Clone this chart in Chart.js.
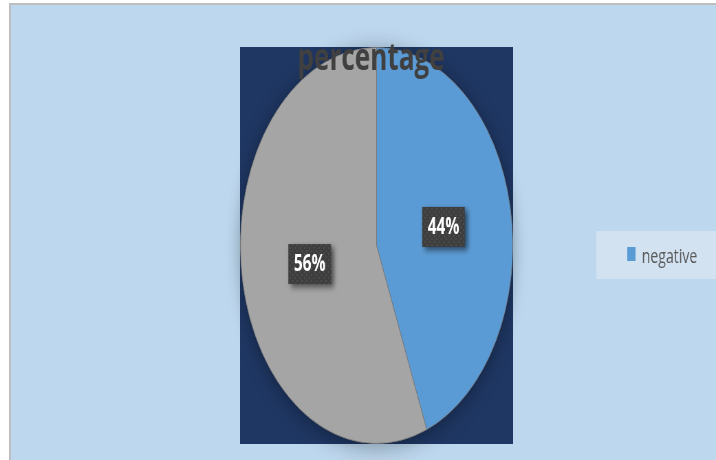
<!DOCTYPE html>
<html>
<head>
<meta charset="utf-8">
<script src="https://cdn.jsdelivr.net/npm/chart.js@4.4.1/dist/chart.umd.min.js"></script>
<style>
  html, body { margin: 0; padding: 0; background: #ffffff; width: 716px; height: 460px; overflow: hidden; }
  #frame {
    position: absolute; left: 9px; top: 3px; width: 720px; height: 470px;
    background: #BDD7EE; border-left: 2px solid #BEBEBE; border-top: 2px solid #BEBEBE;
  }
  /* the chart is laid out wide and squeezed horizontally, giving the tall oval pie */
  #stage { position: absolute; left: 0; top: 0; width: 1041px; height: 460px; transform: scaleX(0.6878); transform-origin: 0 0; }
</style>
</head>
<body>
<div id="frame"></div>
<div id="stage"><canvas id="c" width="1041" height="460"></canvas></div>
<script>
const chartTitle = 'percentage';
const categories = ['negative', 'positive'];
const percentages = [44, 56];
const sliceColors = ['#5B9BD5', '#A5A5A5'];
const legendEntries = categories.slice(0, 1);

const FONT = '"Open Sans", "Liberation Sans", sans-serif';

// small dotted texture used behind the value labels
function makeDotPattern(ctx) {
  const p = document.createElement('canvas');
  p.width = 7; p.height = 6;
  const g = p.getContext('2d');
  g.fillStyle = '#3E3E3E';
  g.fillRect(0, 0, 7, 6);
  g.fillStyle = '#4C4C4C';
  g.fillRect(1, 1, 2, 2);
  g.fillRect(4, 4, 2, 2);
  return ctx.createPattern(p, 'repeat');
}

const plotBackdrop = {
  id: 'plotBackdrop',
  beforeDatasetsDraw(chart) {
    const { ctx, chartArea: a } = chart;
    ctx.save();
    ctx.fillStyle = '#1F3763';
    ctx.fillRect(a.left, a.top, a.right - a.left, a.bottom - a.top);
    // soft shadow around the pie
    const arc = chart.getDatasetMeta(0).data[0];
    ctx.shadowColor = 'rgba(0,0,0,0.34)';
    ctx.shadowBlur = 22;
    ctx.shadowOffsetY = 3;
    ctx.beginPath();
    ctx.arc(arc.x, arc.y, arc.outerRadius, 0, Math.PI * 2);
    ctx.fillStyle = sliceColors[1];
    ctx.fill();
    ctx.restore();
  }
};

const valueLabels = {
  id: 'valueLabels',
  afterDatasetsDraw(chart) {
    const { ctx } = chart;
    const pattern = makeDotPattern(ctx);
    const meta = chart.getDatasetMeta(0);
    meta.data.forEach((arc, i) => {
      const pos = arc.tooltipPosition();
      const w = 62, h = 40;
      ctx.save();
      ctx.shadowColor = 'rgba(0,0,0,0.55)';
      ctx.shadowBlur = 6;
      ctx.shadowOffsetX = 4;
      ctx.shadowOffsetY = 3;
      ctx.fillStyle = pattern;
      ctx.fillRect(pos.x - w / 2, pos.y - h / 2, w, h);
      ctx.restore();
      ctx.save();
      ctx.fillStyle = '#FFFFFF';
      ctx.font = 'bold 22.5px ' + FONT;
      ctx.textAlign = 'center';
      ctx.textBaseline = 'middle';
      ctx.fillText(percentages[i] + '%', pos.x, pos.y + 1);
      ctx.restore();
    });
  }
};

const titleAndLegend = {
  id: 'titleAndLegend',
  afterDraw(chart) {
    const { ctx, chartArea: a, width } = chart;
    ctx.save();
    // title
    ctx.fillStyle = '#404040';
    ctx.font = 'bold 38px ' + FONT;
    ctx.textAlign = 'center';
    ctx.textBaseline = 'alphabetic';
    ctx.fillText(chartTitle, (a.left + a.right) / 2 - 8, 70);
    // legend
    ctx.fillStyle = '#D2E2F1';
    ctx.fillRect(867, 231, width - 867, 48);
    legendEntries.forEach((name, i) => {
      const y = 247 + i * 26;
      ctx.fillStyle = sliceColors[i];
      ctx.fillRect(912, y, 12, 14);
      ctx.fillStyle = '#595959';
      ctx.font = '20.5px ' + FONT;
      ctx.textAlign = 'left';
      ctx.fillText(name, 933, y + 15.5);
    });
    ctx.restore();
  }
};

new Chart(document.getElementById('c'), {
  type: 'pie',
  data: {
    labels: categories,
    datasets: [{
      data: percentages,
      backgroundColor: sliceColors,
      borderColor: 'rgba(110,110,110,0.7)',
      borderWidth: 1
    }]
  },
  options: {
    responsive: false,
    animation: false,
    devicePixelRatio: 1,
    events: [],
    layout: { padding: { left: 349, right: 295, top: 47, bottom: 16 } },
    plugins: {
      legend: { display: false },
      tooltip: { enabled: false },
      title: { display: false }
    }
  },
  plugins: [plotBackdrop, valueLabels, titleAndLegend]
});
</script>
</body>
</html>
